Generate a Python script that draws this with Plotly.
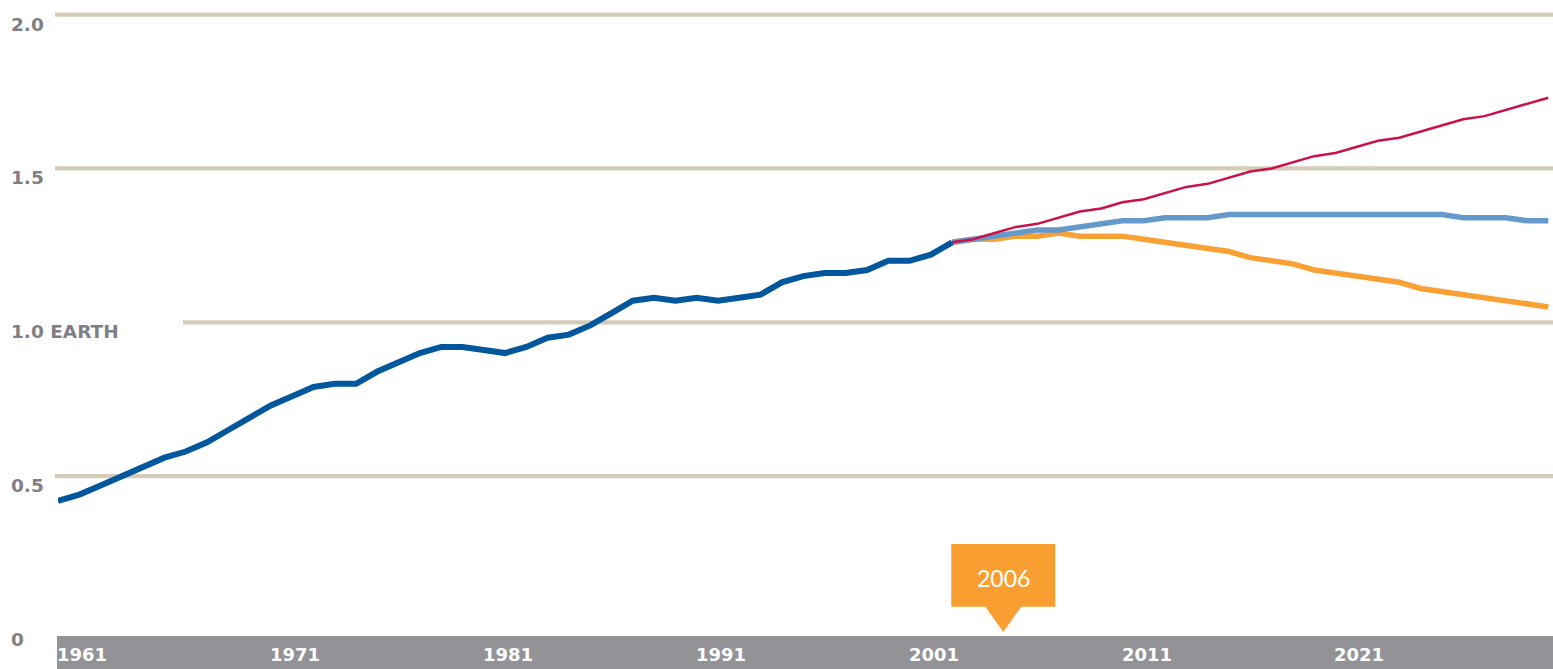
import plotly.graph_objects as go

# ---------------- data ----------------
hist_years = list(range(1961, 2004))
hist_values = [0.42, 0.44, 0.47, 0.50, 0.53, 0.56, 0.58, 0.61, 0.65, 0.69,
               0.73, 0.76, 0.79, 0.80, 0.80, 0.84, 0.87, 0.90, 0.92, 0.92,
               0.91, 0.90, 0.92, 0.95, 0.96, 0.99, 1.03, 1.07, 1.08, 1.07,
               1.08, 1.07, 1.08, 1.09, 1.13, 1.15, 1.16, 1.16, 1.17, 1.20,
               1.20, 1.22, 1.26]

proj_years = list(range(2003, 2032))
business_as_usual = [1.26, 1.27, 1.29, 1.31, 1.32, 1.34, 1.36, 1.37, 1.39, 1.40,
                     1.42, 1.44, 1.45, 1.47, 1.49, 1.50, 1.52, 1.54, 1.55, 1.57,
                     1.59, 1.60, 1.62, 1.64, 1.66, 1.67, 1.69, 1.71, 1.73]
slow_shift = [1.26, 1.27, 1.28, 1.29, 1.30, 1.30, 1.31, 1.32, 1.33, 1.33,
              1.34, 1.34, 1.34, 1.35, 1.35, 1.35, 1.35, 1.35, 1.35, 1.35,
              1.35, 1.35, 1.35, 1.35, 1.34, 1.34, 1.34, 1.33, 1.33]
rapid_reduction = [1.26, 1.27, 1.27, 1.28, 1.28, 1.29, 1.28, 1.28, 1.28, 1.27,
                   1.26, 1.25, 1.24, 1.23, 1.21, 1.20, 1.19, 1.17, 1.16, 1.15,
                   1.14, 1.13, 1.11, 1.10, 1.09, 1.08, 1.07, 1.06, 1.05]

y_tick_values = [2.0, 1.5, 1.0, 0.5, 0.0]
y_tick_labels = ["2.0", "1.5", "1.0 EARTH", "0.5", "0"]
x_tick_years = [1961, 1971, 1981, 1991, 2001, 2011, 2021]
x_tick_labels = ["1961", "1971", "1981", "1991", "2001", "2011", "2021"]

callout_year = 2005.4
callout_text = "2006"

# ---------------- styles ----------------
DARK_BLUE = "#00579b"
LIGHT_BLUE = "#6699cb"
ORANGE = "#f9a134"
RED = "#c9124a"
GRID = "#d4cbb8"
BAND = "#929297"
LABEL_GREY = "#7f7f85"
BOX_ORANGE = "#f99f31"

W, H = 1553, 669
L, B = 58, 39
plot_w = W - L
plot_h = H - B
px_per_unit = 307.7
px_per_year = 21.29

fig = go.Figure()
fig.add_trace(go.Scatter(x=proj_years, y=rapid_reduction, mode="lines",
                         line=dict(color=ORANGE, width=5.5), hoverinfo="skip"))
fig.add_trace(go.Scatter(x=proj_years, y=slow_shift, mode="lines",
                         line=dict(color=LIGHT_BLUE, width=5.5), hoverinfo="skip"))
fig.add_trace(go.Scatter(x=proj_years, y=business_as_usual, mode="lines",
                         line=dict(color=RED, width=2.5), hoverinfo="skip"))
fig.add_trace(go.Scatter(x=hist_years, y=hist_values, mode="lines",
                         line=dict(color=DARK_BLUE, width=6), hoverinfo="skip"))

shapes = []
annotations = []

# gridlines
for v, lab in zip(y_tick_values, y_tick_labels):
    if v > 0:
        x0 = (183 - L) / plot_w if "EARTH" in lab else (55 - L) / plot_w
        shapes.append(dict(type="line", xref="paper", yref="y", x0=x0, x1=1,
                           y0=v, y1=v, line=dict(color=GRID, width=4.3),
                           layer="below"))
    annotations.append(dict(xref="paper", yref="y", x=(9 - L) / plot_w, y=v,
                            xanchor="left", yanchor="top", yshift=3,
                            text="<b>%s</b>" % lab, showarrow=False,
                            font=dict(family="DejaVu Sans", size=18.5, color=LABEL_GREY)))

# bottom band
shapes.append(dict(type="rect", xref="paper", yref="paper",
                   x0=(57 - L) / plot_w, x1=1,
                   y0=(plot_h - H) / plot_h, y1=(plot_h - 636) / plot_h,
                   fillcolor=BAND, line=dict(width=0), layer="below"))
for yr, lab in zip(x_tick_years, x_tick_labels):
    annotations.append(dict(xref="x", yref="paper", x=yr, y=(plot_h - 654) / plot_h,
                            xanchor="left", yanchor="middle", xshift=-3,
                            text="<b>%s</b>" % lab, showarrow=False,
                            font=dict(family="DejaVu Sans", size=18, color="white")))

# callout
half_w = 52 / px_per_year
half_base = 18.5 / px_per_year
box_y0 = (plot_h - 606.7) / plot_h
box_y1 = (plot_h - 544) / plot_h
tip_y = (plot_h - 632) / plot_h
shapes.append(dict(type="rect", xref="x", yref="paper",
                   x0=callout_year - half_w, x1=callout_year + half_w,
                   y0=box_y0, y1=box_y1, fillcolor=BOX_ORANGE,
                   line=dict(width=0), layer="above"))
shapes.append(dict(type="path", xref="x", yref="paper",
                   path="M %f,%f L %f,%f L %f,%f Z" % (
                       callout_year - half_base, box_y0 + 0.001,
                       callout_year + half_base, box_y0 + 0.001,
                       callout_year, tip_y),
                   fillcolor=BOX_ORANGE, line=dict(width=0), layer="above"))
annotations.append(dict(xref="x", yref="paper", x=callout_year,
                        y=(plot_h - 578) / plot_h, xanchor="center",
                        yanchor="middle", text=callout_text, showarrow=False,
                        font=dict(family="Lato", size=23, color="white")))

fig.update_layout(
    width=W, height=H,
    margin=dict(l=L, r=0, t=0, b=B, pad=0),
    paper_bgcolor="white", plot_bgcolor="white",
    showlegend=False,
    xaxis=dict(range=[1961, 1961 + plot_w / px_per_year], visible=False),
    yaxis=dict(range=[0, plot_h / px_per_unit], visible=False),
    shapes=shapes, annotations=annotations,
)

fig.write_html("out.html",
               config={"displayModeBar": False},
               post_script="document.body.style.margin='0';"
                           "document.body.style.overflow='hidden';")
